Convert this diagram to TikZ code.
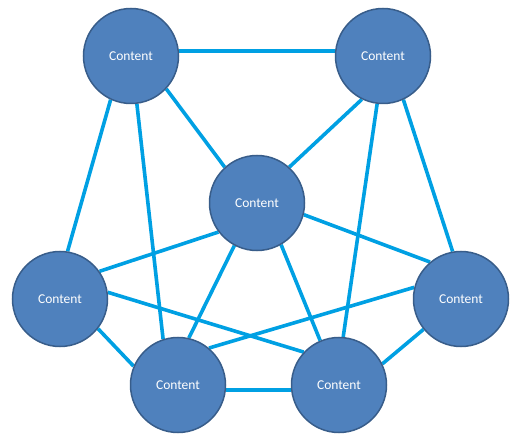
\documentclass[tikz,border=0pt]{standalone}
\usepackage{fontspec}
\setmainfont{Carlito}
\usetikzlibrary{backgrounds}
\definecolor{nodefill}{HTML}{4F81BD}
\definecolor{nodeborder}{HTML}{385D8A}
\definecolor{edgeblue}{RGB}{0,160,227}
\tikzset{
  bubble/.style={circle, fill=nodefill, draw=nodeborder, line width=1.5pt,
    minimum size=95pt, inner sep=0pt, text=white, font=\fontsize{13.5}{15}\selectfont},
  link/.style={draw=edgeblue, line width=3.6pt}
}
\begin{document}
\begin{tikzpicture}[x=1pt,y=-1pt]
\useasboundingbox (0,0) rectangle (520,441);
\node[bubble] (tl) at (131,56) {Content};
\node[bubble] (tr) at (383,56) {Content};
\node[bubble] (c)  at (257,203) {Content};
\node[bubble] (l)  at (60,299) {Content};
\node[bubble] (r)  at (461,299) {Content};
\node[bubble] (bl) at (178,385) {Content};
\node[bubble] (br) at (339,385) {Content};
\begin{scope}[on background layer]
\draw[link] (tl.6) -- (tr.174);
\draw[link] (tl.-43) -- (c.132);
\draw[link] (tl.245) -- (l.81);
\draw[link] (tl.-83) -- (bl.108);
\draw[link] (tr.244) -- (c.48);
\draw[link] (tr.263) -- (br.85);
\draw[link] (tr.-65) -- (r.100);
\draw[link] (c.-14) -- (r.130);
\draw[link] (c.217) -- (l.35);
\draw[link] (c.242) -- (bl.77);
\draw[link] (c.-60) -- (br.113);
\draw[link] (l.8) -- (br.137);
\draw[link] (l.-38) -- (bl.157);
\draw[link] (r.166) -- (bl.50);
\draw[link] (r.219) -- (br.26);
\draw[link] (bl.-6) -- (br.186);
\end{scope}
\end{tikzpicture}
\end{document}
